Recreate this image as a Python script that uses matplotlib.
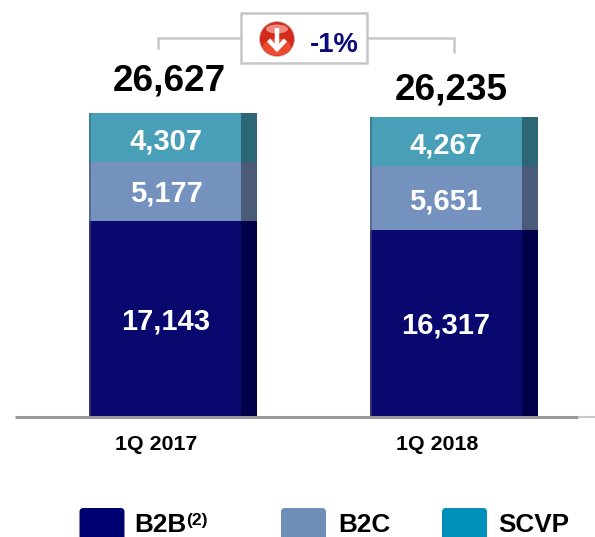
import matplotlib
matplotlib.use("Agg")
import matplotlib.pyplot as plt
from matplotlib.patches import Rectangle, FancyBboxPatch, Circle, Ellipse
from matplotlib.transforms import Affine2D
import numpy as np

categories = ["1Q 2017", "1Q 2018"]
b2b = [17143, 16317]
b2c = [5177, 5651]
scvp = [4307, 4267]
totals = ["26,627", "26,235"]
change = "-1%"
series_names = ["B2B", "B2C", "SCVP"]

W, H = 595, 537
plt.rcParams["font.family"] = ["Liberation Sans", "DejaVu Sans"]
plt.rcParams["font.weight"] = "bold"
fig = plt.figure(figsize=(W / 100, H / 100), dpi=100, facecolor="white")
ax = fig.add_axes([0, 0, 1, 1])

# scale: 280.5 px per category, 0.01138 px per unit, baseline at pixel y=416
PX_X, PX_Y = 280.5, 0.01138
ax.set_xlim(-173 / PX_X, (W - 173) / PX_X)
ax.set_ylim(-(H - 416) / PX_Y, 416 / PX_Y)
ax.axis("off")
px = Affine2D().scale(1, -1).translate(0, H)  # top-left pixel coordinates

x = np.arange(len(categories), dtype=float)
bw, side = 168 / PX_X, 16 / PX_X
edge = 2 / PX_X
stack = [(b2b, "#08086f", "#000048", "#34346e"),
         (b2c, "#7592bf", "#4a5b7a", "#566c90"),
         (scvp, "#4a9fb8", "#2d6675", "#3a7f93")]
bottom = np.zeros(2)
for vals, col, dark, left in stack:
    vals = np.array(vals, float)
    ax.bar(x, vals, bw, bottom=bottom, color=col, lw=0, zorder=2)
    ax.bar(x + bw / 2 - side / 2, vals, side, bottom=bottom, color=dark, lw=0, zorder=3)
    ax.bar(x - bw / 2 + edge / 2, vals, edge, bottom=bottom, color=left, lw=0, zorder=3)
    bottom += vals

def t(px_x, px_y, s, size, color="black", **kw):
    ax.text(px_x, px_y, s, transform=px, fontsize=size, color=color, fontweight="bold",
            ha=kw.pop("ha", "center"), va=kw.pop("va", "center_baseline"), zorder=6, **kw)

# data labels
for cx, ys, vals in [(166, (318, 191, 138), (b2b[0], b2c[0], scvp[0])),
                     (446, (323, 198, 142), (b2b[1], b2c[1], scvp[1]))]:
    for y, v in zip(ys, vals):
        t(cx, y, f"{v:,}", 21, "white")
t(169, 77, totals[0], 26.6)
t(451, 86, totals[1], 26.6)
t(156, 442, categories[0], 15.4)
t(437, 442, categories[1], 15.4)

# baseline
ax.plot([15, 578], [417, 417], transform=px, color="#9a9a9a", lw=2.2, zorder=4, solid_capstyle="butt")
ax.plot([578, 595], [417, 417], transform=px, color="#c8c8c8", lw=1.5, zorder=4, solid_capstyle="butt")

# change callout
g = "#c6c6c6"
ax.plot([158, 158, 454, 454], [49, 38, 38, 53], transform=px, color=g, lw=1.8, zorder=4,
        solid_joinstyle="miter", solid_capstyle="butt")
ax.add_patch(Rectangle((241, 13), 126, 50, transform=px, fc="white", ec=g, lw=1.8, zorder=5))
ax.add_patch(Circle((277, 39), 17.5, transform=px, fc="#d42a1c", ec="#c9c0be", lw=0.6, zorder=6))
ax.add_patch(Ellipse((277, 47), 28, 17, transform=px, fc="#ee4a30", lw=0, zorder=6))
ax.add_patch(Ellipse((277, 29), 22, 9, transform=px, fc="#ee8a80", lw=0, zorder=6))
ax.plot([277, 277], [28, 49], transform=px, color="white", lw=3.2, zorder=7, solid_capstyle="butt")
ax.plot([268.5, 277, 285.5], [40, 49, 40], transform=px, color="white", lw=3.2, zorder=7,
        solid_joinstyle="miter", solid_capstyle="butt")
t(334, 42, change, 19.8, "#0a0a78")

# legend
leg_cols = ["#000070", "#6f8fbb", "#0090bb"]
for sx, tx, name, col in zip((79.5, 281, 442), (134, 338, 498.5), series_names, leg_cols):
    ax.add_patch(FancyBboxPatch((sx, 508), 45, 45, boxstyle="round,pad=0,rounding_size=4",
                                transform=px, fc=col, lw=0, zorder=5))
    t(tx, 523, name, 18.8, ha="left")
t(186, 519, "(2)", 12.5, ha="left")

fig.savefig("out.png", dpi=100, facecolor="white")
